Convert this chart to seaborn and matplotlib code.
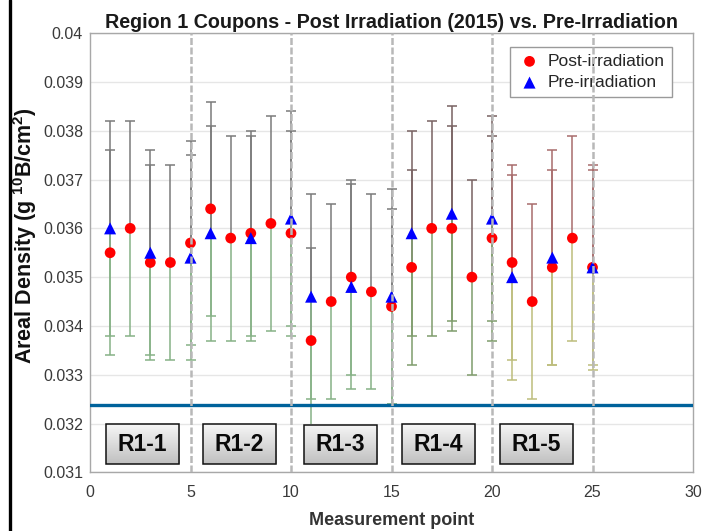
import numpy as np
import pandas as pd
import matplotlib
matplotlib.use("Agg")
import matplotlib.pyplot as plt
from matplotlib.colors import LinearSegmentedColormap
from matplotlib.lines import Line2D
from matplotlib.patches import Rectangle
import seaborn as sns

# ---------------- data ----------------
post_x = list(range(1, 26))
post_y = [0.0355, 0.0360, 0.0353, 0.0353, 0.0357, 0.0364, 0.0358, 0.0359, 0.0361, 0.0359,
          0.0337, 0.0345, 0.0350, 0.0347, 0.0344, 0.0352, 0.0360, 0.0360, 0.0350, 0.0358,
          0.0353, 0.0345, 0.0352, 0.0358, 0.0352]
post_err = [0.0021, 0.0022, 0.0020, 0.0020, 0.0021, 0.0022, 0.0021, 0.0021, 0.0022, 0.0021,
            0.0019, 0.0020, 0.0020, 0.0020, 0.0020, 0.0020, 0.0022, 0.0021, 0.0020, 0.0021,
            0.0020, 0.0020, 0.0020, 0.0021, 0.0021]

pre_x = [1, 3, 5, 6, 8, 10, 11, 13, 15, 16, 18, 20, 21, 23, 25]
pre_y = [0.0360, 0.0355, 0.0354, 0.0359, 0.0358, 0.0362, 0.0346, 0.0348, 0.0346, 0.0359,
         0.0363, 0.0362, 0.0350, 0.0354, 0.0352]
pre_err = [0.0022, 0.0021, 0.0021, 0.0022, 0.0021, 0.0022, 0.0021, 0.0021, 0.0022, 0.0021,
           0.0022, 0.0021, 0.0021, 0.0022, 0.0020]

region_names = ["R1-1", "R1-2", "R1-3", "R1-4", "R1-5"]
region_dividers = [5, 10, 15, 20, 25]
threshold = 0.03237

y_ticks = [0.031, 0.032, 0.033, 0.034, 0.035, 0.036, 0.037, 0.038, 0.039, 0.040]
y_tick_labels = ["0.031", "0.032", "0.033", "0.034", "0.035", "0.036", "0.037", "0.038", "0.039", "0.04"]
x_ticks = [0, 5, 10, 15, 20, 25, 30]

# ---------------- style ----------------
sns.set_theme(style="white")
plt.rcParams["font.family"] = ["Liberation Sans", "DejaVu Sans"]
plt.rcParams["mathtext.fontset"] = "custom"
plt.rcParams["mathtext.rm"] = "Liberation Sans"
plt.rcParams["mathtext.bf"] = "Liberation Sans:bold"

fig = plt.figure(figsize=(7.02, 5.31), dpi=100)
ax = fig.add_axes([90 / 702, 58.7 / 531, 603 / 702, 439.1 / 531])

top_cols = ["#7a7a7a", "#7a7a7a", "#7a7a7a", "#786262", "#a86c6c"]
bot_cols = ["#86b286", "#86b286", "#86b286", "#7f9c6c", "#bdbd7c"]

# error bars (upper half / lower half in different tones)
for xs, ys, es in [(post_x, post_y, post_err), (pre_x, pre_y, pre_err)]:
    for xi, yi, ei in zip(xs, ys, es):
        r = min((xi - 1) // 5, 4)
        ax.vlines(xi, yi, yi + ei, color=top_cols[r], lw=1.1, zorder=2)
        ax.vlines(xi, yi - ei, yi, color=bot_cols[r], lw=1.1, zorder=2)
        ax.plot([xi], [yi + ei], marker="_", ms=7, mew=1.1, color=top_cols[r], zorder=2)
        ax.plot([xi], [yi - ei], marker="_", ms=7, mew=1.1, color=bot_cols[r], zorder=2)

df_post = pd.DataFrame({"x": post_x, "y": post_y})
df_pre = pd.DataFrame({"x": pre_x, "y": pre_y})
sns.scatterplot(data=df_post, x="x", y="y", ax=ax, color="#ff0000", marker="o", s=60,
                edgecolor="none", linewidth=0, zorder=3, label="Post-irradiation")
sns.scatterplot(data=df_pre, x="x", y="y", ax=ax, color="#0000ff", marker="^", s=75,
                edgecolor="none", linewidth=0, zorder=3.2, label="Pre-irradiation")

# threshold line
ax.axhline(threshold, color="#00629b", lw=2.4, zorder=4.5)

# region label boxes
grad = np.linspace(0, 1, 64).reshape(-1, 1)
gcmap = LinearSegmentedColormap.from_list("g", ["#f6f6f6", "#c0c0c0"])
centers = [2.62, 7.42, 12.45, 17.35, 22.2]
for i, (name, cx) in enumerate(zip(region_names, centers)):
    hw = 1.82
    y0, y1 = (0.03116, 0.03196) if i == 2 else (0.03118, 0.03198)
    ax.imshow(grad, extent=[cx - hw, cx + hw, y0, y1], origin="upper", aspect="auto",
              cmap=gcmap, zorder=4.6)
    ax.add_patch(Rectangle((cx - hw, y0), 2 * hw, y1 - y0, fill=False, edgecolor="#111111",
                           lw=1.1, zorder=4.7))
    ax.text(cx, (y0 + y1) / 2, name, ha="center", va="center", fontsize=16.5,
            fontweight="bold", color="#0a0a0a", zorder=4.8)

# dashed dividers
for d in region_dividers:
    ax.axvline(d, color="#b8b8b8", ls=(0, (2.8, 1.0)), lw=1.8, zorder=6)

ax.set_xlim(0, 30)
ax.set_ylim(0.031, 0.040)
ax.set_xticks(x_ticks)
ax.set_xticklabels([str(t) for t in x_ticks])
ax.set_yticks(y_ticks)
ax.set_yticklabels(y_tick_labels)

ax.yaxis.grid(True, color="#e6e6e6", lw=1)
ax.xaxis.grid(False)
ax.set_axisbelow(True)
for sp in ax.spines.values():
    sp.set_color("#a8a8a8")
    sp.set_linewidth(1)
ax.tick_params(axis="both", direction="in", length=3, color="#a8a8a8",
               labelcolor="#3a3a3a", labelsize=11.5)
ax.tick_params(axis="x", pad=9)
ax.tick_params(axis="y", pad=5)

ax.set_title("Region 1 Coupons - Post Irradiation (2015) vs. Pre-Irradiation",
             fontsize=14.2, fontweight="bold", pad=4, color="#1a1a1a")
ax.set_xlabel("Measurement point", fontsize=13, fontweight="bold", color="#333333", labelpad=9)
ax.set_ylabel(r"Areal Density (g $^{\mathbf{10}}$B/cm$^{\mathbf{2}}$)", fontsize=15.5,
              fontweight="bold", color="#111111")
ax.yaxis.set_label_coords(-0.085, 0.54)

leg = ax.legend(loc="upper right", bbox_to_anchor=(0.9647, 0.969), frameon=True,
                fancybox=False, edgecolor="#9a9a9a", fontsize=12.5, handletextpad=0.35,
                handlelength=1.4, borderpad=0.4, labelspacing=0.35, framealpha=1,
                borderaxespad=0)
leg.set_zorder(5)

fig.add_artist(Line2D([9.5 / 702, 9.5 / 702], [0, 1], transform=fig.transFigure,
                      color="black", lw=2.4))

fig.savefig("out.png", dpi=100)
